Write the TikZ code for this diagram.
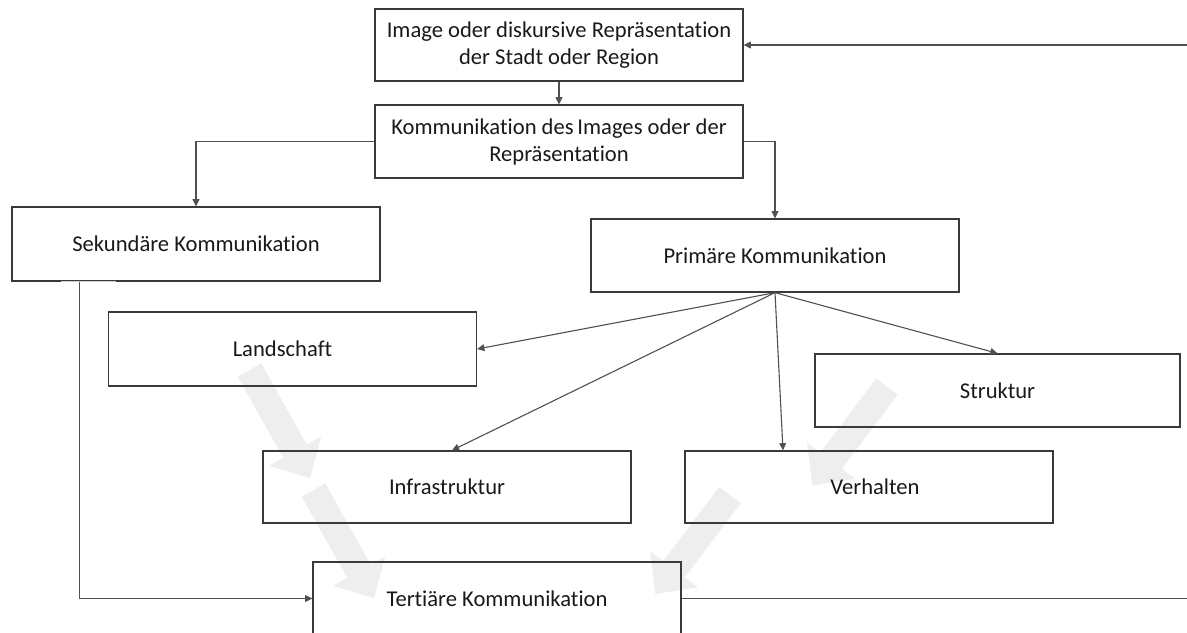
\documentclass[tikz,border=0pt]{standalone}
\usepackage{fontspec}
\setmainfont{Carlito}[RawFeature={-liga}]
\usetikzlibrary{arrows.meta,positioning,calc}

\definecolor{boxline}{HTML}{3A3A3A}
\definecolor{connline}{HTML}{505050}
\definecolor{paleshade}{HTML}{EEEEEE}

\tikzset{
  box/.style={draw=boxline, line width=0.65pt, inner sep=0pt,
    minimum width=184pt, minimum height=36.5pt, align=center,
    font=\fontsize{11.3pt}{13.5pt}\selectfont, text=black!90},
  conn/.style={draw=connline, line width=0.55pt,
    -{Triangle[length=3.6pt,width=3.4pt]}},
  % wide pale arrow in the background
  pics/bigarrow/.style={code={
    \fill[paleshade] (0,-13.5) -- (93,-13.5) -- (93,-30) -- (124,0)
      -- (93,30) -- (93,13.5) -- (0,13.5) -- cycle;
  }},
}

\begin{document}
\begin{tikzpicture}[x=0.5pt, y=-0.5pt]
\useasboundingbox (0,0) rectangle (1187,632);

% background arrows
\pic[shift={(249.5,370)}, rotate=-60.7] {bigarrow};
\pic[shift={(313.5,490)}, rotate=-60.7] {bigarrow};
\pic[shift={(887,386.5)}, rotate=-127] {bigarrow};
\pic[shift={(730,495)}, rotate=-127] {bigarrow};

% boxes
\node[box, minimum height=36pt] (img) at (559,45)
  {Image oder diskursive Repräsentation\\der Stadt oder Region};
\node[box] (komm) at (559,141.5)
  {Kommunikation des\,Images oder der\\Repräsentation};
\node[box, minimum height=37pt] (sek) at (196,244) {Sekundäre Kommunikation};
\node[box] (prim) at (775,255.5) {Primäre Kommunikation};
\node[box, minimum height=37pt] (land) at (292.5,349) {\hspace*{-10pt}Landschaft};
\node[box, minimum width=182.5pt] (strk) at (997.5,390.5) {Struktur};
\node[box, minimum height=36pt] (infra) at (447,487) {Infrastruktur};
\node[box, minimum height=36pt] (verh) at (869,487) {\hspace*{6pt}Verhalten};
\node[box] (tert) at (497,598.5) {Tertiäre Kommunikation};

% pale stretch in the lower edge of the secondary box
\draw[black!18, line width=0.7pt] ($(sek.south west)+(50,0)$) -- ($(sek.south west)+(105,0)$);

% connectors
\draw[conn] (img.south) -- (komm.north);
\draw[conn] (komm.west) -| (sek.north);
\draw[conn] (komm.east) -| (prim.north);

\coordinate (fan) at (prim.south);
\draw[conn] (fan) -- (land.east);
\draw[conn] (fan) -- ($(infra.north)+(5,0)$);
\draw[conn] (fan) -- ($(verh.north)+(-86,0)$);
\draw[conn] (fan) -- (strk.north);

\draw[conn] ($(sek.south west)+(68,0)$) |- (tert.west);

\coordinate (edge) at (1195,598.5);
\draw[conn] (tert.east) -- (edge) |- (img.east);
\end{tikzpicture}
\end{document}
